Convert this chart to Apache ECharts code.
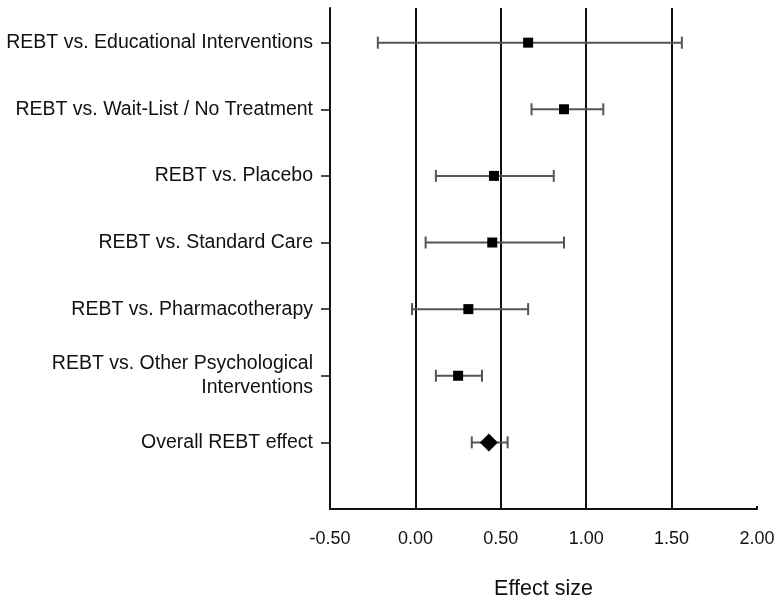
<!DOCTYPE html>
<html>
<head>
<meta charset="utf-8">
<script src="https://cdn.jsdelivr.net/npm/echarts@6/dist/echarts.min.js"></script>
<style>html,body{margin:0;padding:0;background:#fff;}#chart{width:776px;height:600px;}</style>
</head>
<body>
<div id="chart"></div>
<script>
var categories = [
  'REBT vs. Educational Interventions',
  'REBT vs. Wait-List / No Treatment',
  'REBT vs. Placebo',
  'REBT vs. Standard Care',
  'REBT vs. Pharmacotherapy',
  'REBT vs. Other Psychological\nInterventions',
  'Overall REBT effect'
];
var effects = [0.66, 0.87, 0.46, 0.45, 0.31, 0.25, 0.43];
var lowerCI = [-0.22, 0.68, 0.12, 0.06, -0.02, 0.12, 0.33];
var upperCI = [1.56, 1.10, 0.81, 0.87, 0.66, 0.39, 0.54];
var xTicks = [-0.5, 0, 0.5, 1, 1.5, 2];

var barData = categories.map(function (c, i) { return [lowerCI[i], upperCI[i], i]; });
var pointData = [];
var overallData = [];
categories.forEach(function (c, i) {
  if (i === categories.length - 1) overallData.push([effects[i], i]);
  else pointData.push([effects[i], i]);
});

var chart = echarts.init(document.getElementById('chart'));
chart.setOption({
  animation: false,
  backgroundColor: '#fff',
  grid: { left: 330, right: 19, top: 8, bottom: 91, containLabel: false, outerBoundsMode: 'none' },
  xAxis: {
    type: 'value', min: -0.5, max: 2, interval: 0.5,
    name: 'Effect size', nameLocation: 'middle', nameGap: 69,
    nameTextStyle: { fontFamily: 'Liberation Sans, Arial, sans-serif', fontSize: 21.5, color: '#111' },
    axisLine: { show: true, onZero: false, lineStyle: { color: '#111', width: 2 } },
    axisTick: { show: true, inside: true, length: 3, lineStyle: { color: '#111', width: 2 } },
    axisLabel: { margin: 21, fontFamily: 'Liberation Sans, Arial, sans-serif', fontSize: 18, color: '#111',
      customValues: xTicks,
      formatter: function (v) { return v.toFixed(2); } },
    splitLine: { show: true, showMinLine: false, showMaxLine: false, lineStyle: { color: '#111', width: 2 } }
  },
  yAxis: {
    type: 'value', inverse: true, min: -0.52, max: 7,
    axisLine: { show: true, onZero: false, lineStyle: { color: '#111', width: 2 } },
    axisTick: { show: true, length: 9, customValues: [0, 1, 2, 3, 4, 5, 6], lineStyle: { color: '#111', width: 1.5 } },
    axisLabel: { margin: 17, fontFamily: 'Liberation Sans, Arial, sans-serif', fontSize: 19.5, color: '#111',
      lineHeight: 24, align: 'right',
      customValues: [0, 1, 2, 3, 4, 5, 6],
      formatter: function (v) { return categories[Math.round(v)] || ''; } },
    splitLine: { show: false }
  },
  series: [
    {
      type: 'custom',
      data: barData,
      encode: { x: [0, 1], y: 2 },
      renderItem: function (params, api) {
        var y = api.value(2);
        var p1 = api.coord([api.value(0), y]);
        var p2 = api.coord([api.value(1), y]);
        var h = 6;
        var st = { stroke: '#555', lineWidth: 2 };
        return {
          type: 'group',
          children: [
            { type: 'line', shape: { x1: p1[0], y1: p1[1], x2: p2[0], y2: p2[1] }, style: st },
            { type: 'line', shape: { x1: p1[0], y1: p1[1] - h, x2: p1[0], y2: p1[1] + h }, style: st },
            { type: 'line', shape: { x1: p2[0], y1: p2[1] - h, x2: p2[0], y2: p2[1] + h }, style: st }
          ]
        };
      },
      z: 3
    },
    {
      type: 'scatter', data: pointData, symbol: 'rect', symbolSize: 10,
      itemStyle: { color: '#000', opacity: 1 }, z: 4
    },
    {
      type: 'scatter', data: overallData, symbol: 'diamond', symbolSize: [18, 18],
      itemStyle: { color: '#000', opacity: 1 }, z: 4
    }
  ]
});
</script>
</body>
</html>
